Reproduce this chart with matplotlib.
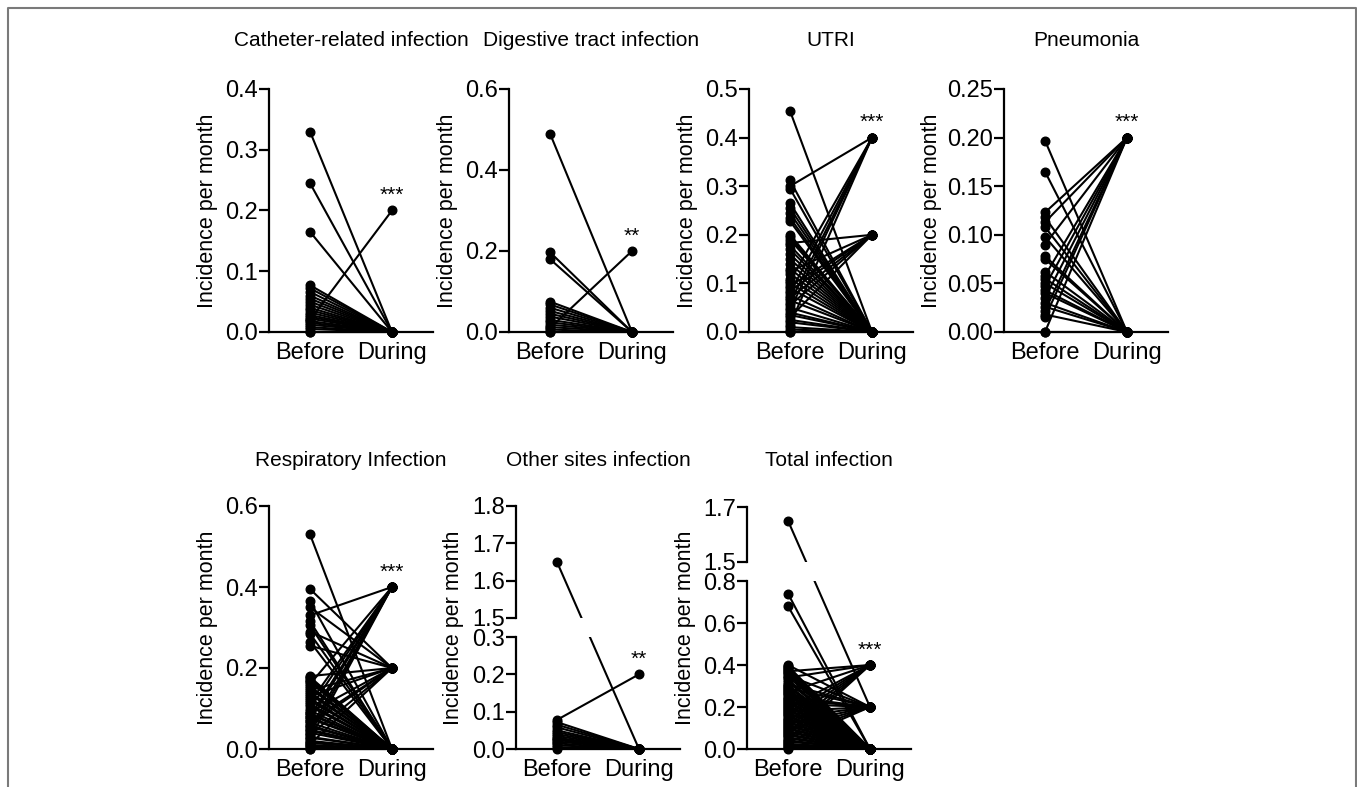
import numpy as np
import matplotlib.pyplot as plt
from matplotlib.lines import Line2D

W, H = 1357, 787
sans = ['Liberation Sans Narrow', 'Liberation Sans', 'DejaVu Sans']

groups = ['Before', 'During']
ylabel = 'Incidence per month'

titles = ['Catheter-related infection', 'Digestive tract infection', 'UTRI', 'Pneumonia',
          'Respiratory Infection', 'Other sites infection', 'Total infection']
stars = ['***', '**', '***', '***', '***', '**', '***']

# per-patient monthly incidence (before, during)
cath_before = [0.33, 0.245, 0.165, 0.077, 0.072, 0.066, 0.06, 0.055, 0.05, 0.045, 0.04, 0.036,
               0.032, 0.028, 0.025, 0.022, 0.02, 0.018, 0.015, 0.012, 0.008, 0.005, 0.0, 0.0]
cath_during = [0, 0, 0, 0, 0, 0, 0, 0, 0, 0, 0, 0,
               0, 0, 0, 0, 0.2, 0, 0, 0, 0, 0, 0, 0]

dig_before = [0.49, 0.197, 0.18, 0.075, 0.068, 0.06, 0.052, 0.045, 0.038, 0.03, 0.024,
              0.018, 0.012, 0.01, 0.006, 0.0, 0.0]
dig_during = [0, 0, 0, 0, 0, 0, 0, 0, 0, 0, 0,
              0, 0, 0.2, 0, 0, 0]

utri_before = [0.455, 0.312, 0.300, 0.295, 0.265, 0.255, 0.245, 0.235, 0.228, 0.200, 0.195,
               0.190, 0.183, 0.178, 0.170, 0.160, 0.150, 0.140, 0.130, 0.125, 0.120, 0.110,
               0.105, 0.100, 0.095, 0.090, 0.085, 0.080, 0.075, 0.070, 0.065, 0.060, 0.055,
               0.050, 0.045, 0.040, 0.035, 0.030, 0.025, 0.020, 0.015, 0.010, 0.005, 0.0, 0.0]
utri_during = [0, 0, 0.4, 0, 0, 0, 0, 0, 0, 0, 0,
               0, 0.2, 0, 0, 0, 0, 0, 0, 0.2, 0, 0,
               0.4, 0, 0.2, 0, 0.2, 0.4, 0, 0.2, 0, 0.4, 0.2,
               0, 0.4, 0, 0, 0.2, 0, 0, 0.4, 0, 0, 0, 0]

pneu_before = [0.197, 0.165, 0.123, 0.118, 0.113, 0.108, 0.098, 0.090, 0.078, 0.075, 0.062,
               0.058, 0.055, 0.050, 0.047, 0.043, 0.040, 0.035, 0.030, 0.026, 0.022, 0.018,
               0.015, 0.0, 0.0]
pneu_during = [0, 0, 0.2, 0, 0.2, 0, 0, 0.2, 0, 0, 0,
               0.2, 0, 0, 0.2, 0, 0, 0.2, 0, 0, 0.2, 0,
               0.2, 0.2, 0]

resp_before = [0.530, 0.395, 0.365, 0.350, 0.330, 0.315, 0.305, 0.290, 0.285, 0.265, 0.255,
               0.180, 0.178, 0.175, 0.170, 0.168, 0.165, 0.160, 0.155, 0.150, 0.145, 0.140,
               0.135, 0.130, 0.125, 0.120, 0.115, 0.110, 0.105, 0.100, 0.095, 0.090, 0.088,
               0.085, 0.080, 0.078, 0.075, 0.070, 0.068, 0.065, 0.060, 0.058, 0.055, 0.050,
               0.048, 0.045, 0.040, 0.038, 0.035, 0.030, 0.028, 0.025, 0.020, 0.018, 0.015,
               0.012, 0.010, 0.008, 0.005, 0.0, 0.0]
resp_during = [0, 0.2, 0, 0.2, 0.4, 0, 0, 0.2, 0, 0, 0.2,
               0.2, 0, 0, 0, 0, 0, 0.4, 0, 0, 0.2, 0,
               0, 0.2, 0, 0, 0.4, 0, 0, 0.4, 0, 0.2, 0,
               0, 0.4, 0, 0, 0.4, 0.2, 0, 0.2, 0, 0, 0.4,
               0, 0, 0, 0.4, 0.2, 0, 0, 0.4, 0, 0, 0,
               0.2, 0, 0, 0, 0, 0]

other_before = [1.65, 0.078, 0.072, 0.065, 0.058, 0.05, 0.045, 0.04, 0.035, 0.03, 0.027,
                0.024, 0.02, 0.015, 0.01, 0.005, 0.0]
other_during = [0, 0.2, 0, 0, 0, 0, 0, 0, 0, 0, 0,
                0, 0, 0, 0, 0, 0]

total_before = [1.65, 0.74, 0.68, 0.400, 0.395, 0.390, 0.385, 0.380, 0.375, 0.370, 0.365,
                0.360, 0.355, 0.350, 0.345, 0.340, 0.330, 0.320, 0.310, 0.305, 0.300, 0.295,
                0.290, 0.285, 0.280, 0.275, 0.270, 0.265, 0.260, 0.255, 0.250, 0.245, 0.240,
                0.235, 0.230, 0.225, 0.220, 0.215, 0.210, 0.205, 0.200, 0.195, 0.190, 0.185,
                0.180, 0.175, 0.170, 0.165, 0.160, 0.155, 0.150, 0.145, 0.140, 0.135, 0.130,
                0.125, 0.120, 0.115, 0.110, 0.105, 0.100, 0.095, 0.090, 0.085, 0.080, 0.075,
                0.070, 0.065, 0.060, 0.055, 0.050, 0.045, 0.040, 0.035, 0.030, 0.025, 0.020,
                0.015, 0.010, 0.005, 0.0]
total_during = [0.2, 0, 0, 0.2, 0, 0, 0, 0, 0, 0.4, 0,
                0, 0, 0.2, 0, 0.4, 0, 0, 0.2, 0, 0, 0,
                0.2, 0, 0, 0, 0.4, 0, 0, 0, 0.2, 0, 0,
                0.2, 0, 0, 0, 0.2, 0, 0, 0, 0.4, 0, 0,
                0.2, 0, 0, 0.4, 0, 0, 0.2, 0, 0, 0.4, 0,
                0, 0.2, 0, 0, 0.4, 0, 0, 0.2, 0, 0, 0.4,
                0, 0, 0.2, 0, 0, 0.4, 0, 0, 0.2, 0, 0,
                0, 0, 0, 0]

before_sets = [cath_before, dig_before, utri_before, pneu_before, resp_before, other_before, total_before]
during_sets = [cath_during, dig_during, utri_during, pneu_during, resp_during, other_during, total_during]

yticks = [[0.0, 0.1, 0.2, 0.3, 0.4], [0.0, 0.2, 0.4, 0.6], [0.0, 0.1, 0.2, 0.3, 0.4, 0.5],
          [0.0, 0.05, 0.10, 0.15, 0.20, 0.25], [0.0, 0.2, 0.4, 0.6],
          [0.0, 0.1, 0.2, 0.3], [0.0, 0.2, 0.4, 0.6, 0.8]]
yticklabels = [['0.0', '0.1', '0.2', '0.3', '0.4'], ['0.0', '0.2', '0.4', '0.6'],
               ['0.0', '0.1', '0.2', '0.3', '0.4', '0.5'],
               ['0.00', '0.05', '0.10', '0.15', '0.20', '0.25'], ['0.0', '0.2', '0.4', '0.6'],
               ['0.0', '0.1', '0.2', '0.3'], ['0.0', '0.2', '0.4', '0.6', '0.8']]
# upper segments of the broken axes (panels 6 and 7)
top_ticks = {5: [1.5, 1.6, 1.7, 1.8], 6: [1.5, 1.7]}
top_ticklabels = {5: ['1.5', '1.6', '1.7', '1.8'], 6: ['1.5', '1.7']}

LW = 1.5
MS = 6.2

fig = plt.figure(figsize=(W / 100, H / 100), dpi=100)


def px_box(left, top, bottom, width=164):
    return [left / W, 1 - bottom / H, width / W, (bottom - top) / H]


def style(ax, ticks, labels, xaxis=True):
    ax.set_xlim(-0.5, 1.5)
    ax.patch.set_visible(False)
    ax.spines['top'].set_visible(False)
    ax.spines['right'].set_visible(False)
    ax.spines['left'].set_linewidth(1.6)
    if xaxis:
        ax.spines['bottom'].set_linewidth(1.6)
        ax.set_xticks([0, 1])
        ax.set_xticklabels(groups, fontsize=17, family=sans)
        ax.tick_params(axis='x', length=0, pad=7)
    else:
        ax.spines['bottom'].set_visible(False)
        ax.set_xticks([])
    ax.set_yticks(ticks)
    ax.set_yticklabels(labels, fontsize=17, family=sans)
    ax.tick_params(axis='y', length=7, width=1.6, pad=1, direction='out')


def pair(ax, y0, y1):
    ax.plot([0, 1], [y0, y1], color='k', lw=LW, marker='o', ms=MS, clip_on=False)


# (left px, top px, bottom px, ylabel offset px)
layout = [(269, 89, 332, 61), (509, 89, 332, 61), (749, 89, 332, 61), (1004, 89, 332, 73),
          (269, 506, 749, 61), (516, 506, 749, 62), (747, 507, 749, 61)]
# broken axes: (top-part bottom px, low-part top px, cut value, upper ylim)
broken = {5: (618, 637, 0.3, (1.5, 1.8)), 6: (562, 581, 0.8, (1.5, 1.7))}

for i in range(7):
    left, top, bottom, off = layout[i]
    b, d = before_sets[i], during_sets[i]
    if i in broken:
        tb, lt, cut, ylim_top = broken[i]
        ax_t = fig.add_axes(px_box(left, top, tb))
        ax = fig.add_axes(px_box(left, lt, bottom))
        ax_t.set_ylim(*ylim_top)
        ax.set_ylim(0, cut)
        style(ax_t, top_ticks[i], top_ticklabels[i], xaxis=False)
        style(ax, yticks[i], yticklabels[i])
        for y0, y1 in zip(b, d):
            if y0 <= cut:
                pair(ax, y0, y1)
            else:
                # one straight stroke across the gap, cut by each axes box
                p0 = ax_t.transData.transform((0, y0))
                p1 = ax.transData.transform((1, y1))
                q0 = ax.transData.inverted().transform(p0)
                q1 = ax_t.transData.inverted().transform(p1)
                ax.plot([q0[0], 1], [q0[1], y1], color='k', lw=LW)
                ax_t.plot([0, q1[0]], [y0, q1[1]], color='k', lw=LW)
                ax_t.plot([0], [y0], 'o', color='k', ms=MS, clip_on=False)
                ax.plot([1], [y1], 'o', color='k', ms=MS, clip_on=False)
    else:
        ax = fig.add_axes(px_box(left, top, bottom))
        ax.set_ylim(yticks[i][0], yticks[i][-1])
        style(ax, yticks[i], yticklabels[i])
        for y0, y1 in zip(b, d):
            pair(ax, y0, y1)

    ax.annotate(stars[i], (1, max(d)), xytext=(0, 4), textcoords='offset points',
                ha='center', va='bottom', fontsize=15, family=sans)
    fig.text((left + 82) / W, 1 - (41 if top < 300 else 461) / H, titles[i],
             ha='center', va='center', fontsize=15, family=sans)
    fig.text((left - off) / W, 1 - (top + bottom) / 2 / H, ylabel, rotation=90,
             ha='center', va='center', fontsize=15.5, family=sans)

# grey frame round the figure (bottom edge cropped away)
x0, x1, yt = 7.5 / W, 1355.5 / W, 1 - 7.5 / H
fig.add_artist(Line2D([x0, x0, x1, x1], [-0.01, yt, yt, -0.01], transform=fig.transFigure,
                      color='#7a7a7a', lw=1.5))

fig.savefig('out.png', dpi=100)
